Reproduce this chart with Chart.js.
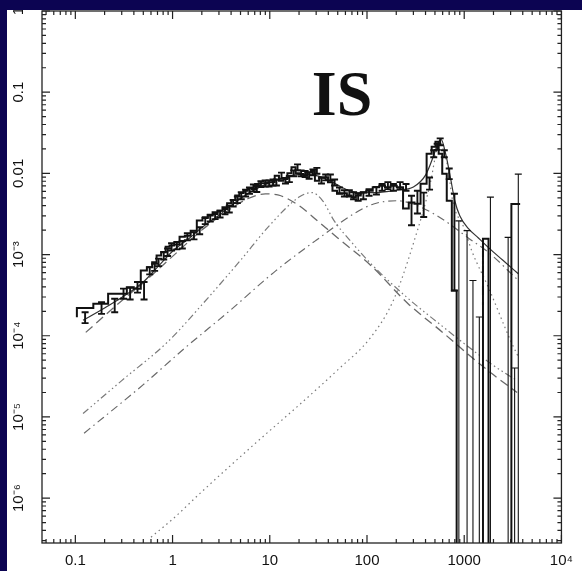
<!DOCTYPE html>
<html>
<head>
<meta charset="utf-8">
<script src="https://cdn.jsdelivr.net/npm/chart.js@4.4.0/dist/chart.umd.min.js"></script>
<style>
  html, body { margin: 0; padding: 0; background: #0c0452; }
  #c { position: absolute; left: 0; top: 0; }
</style>
</head>
<body>
<canvas id="c" width="582" height="571"></canvas>
<script>
// observed spectrum (bin centres, values, error extents; null lo = down to the axis)
const binX = [0.126,0.186,0.254,0.313,0.366,0.436,0.509,
  0.582,0.654,0.718,0.811,0.889,0.977,1.106,1.26,1.42,1.66,
  1.90,2.17,2.44,2.74,3.08,3.46,3.83,4.20,4.64,5.09,
  5.64,6.18,6.79,7.35,8.11,8.97,9.84,10.8,11.7,13.2,
  14.5,15.9,17.6,19.3,21.0,23.1,25.4,27.8,30.5,34.0,
  37.6,42.0,46.4,52.1,58.6,65.8,72.8,81.1,91.8,105,
  125,143,164,187,219,252,287,330,383,440,
  486,527,566,624,701,793,881,
  1070,1230,1430,1700,1860,2000,2830,3300,3600];
const binY = [1.69e-4,2.19e-4,2.47e-4,3.29e-4,3.29e-4,3.96e-4,3.78e-4,
  6.35e-4,6.98e-4,8.04e-4,9.72e-4,1.07e-3,1.25e-3,1.29e-3,1.33e-3,1.66e-3,1.71e-3,
  1.97e-3,2.62e-3,2.82e-3,3.02e-3,3.16e-3,3.47e-3,3.65e-3,4.28e-3,4.71e-3,5.32e-3,
  5.74e-3,6.12e-3,6.61e-3,6.42e-3,7.40e-3,7.53e-3,7.53e-3,7.75e-3,7.75e-3,9.37e-3,
  8.13e-3,8.53e-3,1.0e-2,1.19e-2,1.0e-2,9.8e-3,9.37e-3,1.03e-2,1.08e-2,8.13e-3,
  8.93e-3,8.93e-3,7.75e-3,6.12e-3,5.68e-3,5.68e-3,5.32e-3,5.07e-3,5.32e-3,5.83e-3,
  6.12e-3,6.73e-3,7.06e-3,6.73e-3,7.06e-3,6.73e-3,3.68e-3,4.39e-3,4.23e-3,7.47e-3,
  1.75e-2,2.13e-2,2.45e-2,1.75e-2,9.9e-3,4.6e-3,3.6e-4,
  1e-9,1e-9,1e-9,1e-9,1.57e-3,1e-9,1e-9,1e-9,4.2e-3];
const binLo = [1.43e-4,1.86e-4,1.95e-4,2.85e-4,2.8e-4,3.4e-4,2.8e-4,
  5.7e-4,6.3e-4,7.2e-4,8.7e-4,9.6e-4,1.12e-3,1.16e-3,1.19e-3,1.5e-3,1.54e-3,
  1.78e-3,2.37e-3,2.55e-3,2.73e-3,2.86e-3,3.14e-3,3.3e-3,3.9e-3,4.3e-3,4.8e-3,
  5.2e-3,5.6e-3,6.0e-3,5.9e-3,6.8e-3,6.9e-3,6.9e-3,7.1e-3,7.1e-3,8.6e-3,
  7.5e-3,7.8e-3,9.2e-3,1.09e-2,9.2e-3,9.0e-3,8.6e-3,9.5e-3,9.9e-3,7.5e-3,
  8.2e-3,8.2e-3,7.1e-3,5.6e-3,5.2e-3,5.2e-3,4.8e-3,4.6e-3,4.8e-3,5.3e-3,
  5.5e-3,6.1e-3,6.4e-3,6.1e-3,6.4e-3,6.1e-3,2.3e-3,3.2e-3,2.9e-3,6.3e-3,
  1.58e-2,1.95e-2,2.22e-2,1.58e-2,8.5e-3,3.6e-4,null,
  null,null,null,null,null,null,null,null,null];
const binHi = [1.95e-4,2.59e-4,2.85e-4,3.8e-4,3.9e-4,4.6e-4,4.6e-4,
  7.0e-4,7.7e-4,8.9e-4,1.08e-3,1.19e-3,1.38e-3,1.43e-3,1.47e-3,1.83e-3,1.88e-3,
  2.17e-3,2.88e-3,3.1e-3,3.32e-3,3.48e-3,3.82e-3,4.0e-3,4.7e-3,5.2e-3,5.85e-3,
  6.3e-3,6.7e-3,7.3e-3,7.0e-3,8.0e-3,8.2e-3,8.2e-3,8.4e-3,8.4e-3,1.02e-2,
  8.8e-3,9.3e-3,1.09e-2,1.29e-2,1.09e-2,1.07e-2,1.02e-2,1.12e-2,1.17e-2,8.8e-3,
  9.7e-3,9.7e-3,8.4e-3,6.7e-3,6.2e-3,6.2e-3,5.85e-3,5.6e-3,5.85e-3,6.4e-3,
  6.8e-3,7.4e-3,7.8e-3,7.4e-3,7.8e-3,7.4e-3,5.3e-3,6.1e-3,5.8e-3,8.9e-3,
  1.93e-2,2.32e-2,2.7e-2,1.93e-2,1.15e-2,5.6e-3,2.6e-3,
  1.97e-3,4.8e-4,1.7e-4,null,5.1e-3,null,1.63e-3,4.0e-5,9.8e-3];

// total model (solid)
const totalX = [0.12,0.2,0.3,0.5,0.7,1,1.5,2,3,5,7,10,15,20,30,40,60,80,120,200,300,400,480,540,580,640,720,800,900,1100,1400,1800,2500,3600];
const totalY = [1.55e-4,2.2e-4,2.95e-4,4.6e-4,7.0e-4,1.1e-3,1.6e-3,2.15e-3,3.05e-3,4.9e-3,6.3e-3,7.7e-3,9.0e-3,9.7e-3,9.4e-3,8.3e-3,6.4e-3,5.8e-3,5.8e-3,6.2e-3,6.8e-3,9.5e-3,1.6e-2,2.4e-2,2.6e-2,1.8e-2,9e-3,4.6e-3,3.0e-3,2.1e-3,1.6e-3,1.2e-3,8.5e-4,5.8e-4];
// components
const dashX = [0.128,0.3,0.5,1,2,4,6,9,13,20,31,50,110,263,600,1000,2000,3500];
const dashY = [1.1e-4,2.7e-4,4.5e-4,9.5e-4,2.0e-3,3.7e-3,4.9e-3,5.6e-3,5.3e-3,4.0e-3,2.6e-3,1.6e-3,7.3e-4,2.5e-4,1.1e-4,6.5e-5,3.3e-5,2.0e-5];
const dash3dotX = [0.12,0.3,0.9,2,5,10,20,27,35,46,70,110,263,600,1000,2000,3500];
const dash3dotY = [1.1e-5,2.8e-5,8.5e-5,2.4e-4,8.5e-4,2.3e-3,5.1e-3,5.8e-3,4.6e-3,2.6e-3,1.4e-3,7.7e-4,2.9e-4,1.3e-4,8e-5,4.3e-5,2.8e-5];
const dashDotX = [0.123,0.5,1.31,4,11.5,30,74,117,200,280,440,700,1100,1800,3600];
const dashDotY = [6.3e-6,2.5e-5,6.9e-5,2.1e-4,6.3e-4,1.5e-3,3.2e-3,4.2e-3,4.6e-3,4.3e-3,3.4e-3,2.4e-3,1.6e-3,1.05e-3,4.8e-4];
const dotX = [0.6,1,2,7.2,20,50,109,186,300,447,520,565,620,680,760,1000,1200,1780,3000,3600];
const dotY = [3.3e-7,5.5e-7,1.2e-6,4.8e-6,1.4e-5,3.8e-5,9.5e-5,2.7e-4,1.37e-3,7.5e-3,1.9e-2,2.5e-2,1.8e-2,1.17e-2,4.6e-3,2.1e-3,1.1e-3,3.9e-4,8.7e-5,5.5e-5];

// axes
const xTickVals = [0.1, 1, 10, 100, 1000, 10000];
const xTickLabels = ['0.1', '1', '10', '100', '1000', '10\u2074'];
const yTickVals = [1, 0.1, 0.01, 1e-3, 1e-4, 1e-5, 1e-6];
const yTickLabels = ['1', '0.1', '0.01', '10\u207B\u00B3', '10\u207B\u2074', '10\u207B\u2075', '10\u207B\u2076'];
const X_MIN = 0.0454, X_MAX = 10000, Y_MIN = 2.8e-7, Y_MAX = 1;

const pts = (xs, ys) => xs.map((x, i) => ({ x: x, y: ys[i] }));

// step outline: each bin drawn from its lower edge (geometric midpoints)
function stepPoints() {
  const out = [];
  for (let i = 0; i < binX.length; i++) {
    const lo = i === 0 ? binX[0] / Math.sqrt(binX[1] / binX[0]) : Math.sqrt(binX[i - 1] * binX[i]);
    out.push({ x: lo, y: binY[i] });
  }
  const n = binX.length - 1;
  out.push({ x: binX[n] * Math.sqrt(binX[n] / binX[n - 1]), y: binY[n] });
  return out;
}

const navy = '#0c0452';

const page = {
  id: 'page',
  beforeDraw(chart) {
    const ctx = chart.ctx;
    ctx.save();
    ctx.fillStyle = '#ffffff';
    ctx.fillRect(7, 10, 575, 561);
    ctx.restore();
  },
  afterDatasetsDraw(chart) {
    const { ctx, chartArea: a, scales: { x, y } } = chart;
    ctx.save();
    ctx.beginPath();
    ctx.rect(a.left, a.top, a.right - a.left, a.bottom - a.top);
    ctx.clip();
    ctx.strokeStyle = '#111';
    binX.forEach((v, i) => {
      if (binHi[i] == null) return;
      const px = x.getPixelForValue(v);
      const top = y.getPixelForValue(binHi[i]);
      const toAxis = binLo[i] == null;
      const bot = toAxis ? a.bottom + 2 : y.getPixelForValue(binLo[i]);
      ctx.lineWidth = toAxis ? 1.1 : 1.9;
      ctx.beginPath();
      ctx.moveTo(px, top); ctx.lineTo(px, bot);
      ctx.moveTo(px - 3.5, top); ctx.lineTo(px + 3.5, top);
      if (!toAxis) { ctx.moveTo(px - 3.5, bot); ctx.lineTo(px + 3.5, bot); }
      ctx.stroke();
    });
    ctx.restore();
  },
  afterDraw(chart) {
    const { ctx, chartArea: a, scales: { x, y } } = chart;
    ctx.save();
    ctx.strokeStyle = '#222';
    ctx.lineWidth = 1.3;
    ctx.strokeRect(a.left, a.top, a.right - a.left, a.bottom - a.top);

    // inward ticks on all four sides
    ctx.lineWidth = 1.2;
    ctx.beginPath();
    for (let e = -2; e <= 4; e++) {
      for (let m = 1; m <= 9; m++) {
        const v = m * Math.pow(10, e);
        if (v < X_MIN || v > X_MAX) continue;
        const px = x.getPixelForValue(v);
        const len = m === 1 ? 8 : 4;
        ctx.moveTo(px, a.bottom); ctx.lineTo(px, a.bottom - len);
        ctx.moveTo(px, a.top); ctx.lineTo(px, a.top + len);
      }
    }
    for (let e = -7; e <= 0; e++) {
      for (let m = 1; m <= 9; m++) {
        const v = m * Math.pow(10, e);
        if (v < Y_MIN || v > Y_MAX) continue;
        const py = y.getPixelForValue(v);
        const len = m === 1 ? 8 : 4;
        ctx.moveTo(a.left, py); ctx.lineTo(a.left + len, py);
        ctx.moveTo(a.right, py); ctx.lineTo(a.right - len, py);
      }
    }
    ctx.stroke();

    // rotated y labels
    ctx.fillStyle = '#111';
    ctx.font = '15px "Liberation Sans", Arial, sans-serif';
    ctx.textAlign = 'center';
    ctx.textBaseline = 'middle';
    yTickVals.forEach((v, i) => {
      ctx.save();
      ctx.translate(19, y.getPixelForValue(v));
      ctx.rotate(-Math.PI / 2);
      ctx.fillText(yTickLabels[i], 0, 0);
      ctx.restore();
    });

    // panel title
    ctx.font = 'bold 64px "Liberation Serif", "Times New Roman", serif';
    ctx.fillText('IS', 342, 98);

    // blue frame over the page edge
    ctx.fillStyle = navy;
    ctx.fillRect(0, 0, 582, 10);
    ctx.fillRect(0, 0, 7, 571);
    ctx.restore();
  }
};

const modelLine = (xs, ys, color, dash, width) => ({
  data: pts(xs, ys),
  showLine: true,
  borderColor: color,
  borderWidth: width,
  borderDash: dash,
  pointRadius: 0,
  cubicInterpolationMode: 'monotone',
  fill: false
});

new Chart(document.getElementById('c'), {
  type: 'scatter',
  data: {
    datasets: [
      {
        data: stepPoints(),
        showLine: true,
        stepped: 'after',
        borderColor: '#111',
        borderWidth: 2,
        pointRadius: 0,
        fill: false
      },
      modelLine(totalX, totalY, '#333', [], 1.2),
      modelLine(dashX, dashY, '#6a6a6a', [9, 5], 1.3),
      modelLine(dash3dotX, dash3dotY, '#7a7a7a', [7, 3, 1.5, 3, 1.5, 3, 1.5, 3], 1.2),
      modelLine(dashDotX, dashDotY, '#6a6a6a', [8, 4, 1.5, 4], 1.2),
      modelLine(dotX, dotY, '#7a7a7a', [1.5, 3.5], 1.2)
    ]
  },
  options: {
    responsive: false,
    animation: false,
    devicePixelRatio: 1,
    layout: { autoPadding: false, padding: { top: 11, right: 11, left: 0, bottom: 0 } },
    scales: {
      x: {
        type: 'logarithmic',
        min: X_MIN,
        max: X_MAX,
        grid: { display: false, drawTicks: false },
        border: { display: false },
        afterBuildTicks: s => { s.ticks = xTickVals.map(v => ({ value: v })); },
        afterFit: s => { s.height = 28; },
        ticks: {
          autoSkip: false,
          maxRotation: 0,
          padding: 9,
          color: '#111',
          font: { family: '"Liberation Sans", Arial, sans-serif', size: 15 },
          callback: (v, i) => xTickLabels[i]
        }
      },
      y: {
        type: 'logarithmic',
        min: Y_MIN,
        max: Y_MAX,
        grid: { display: false, drawTicks: false },
        border: { display: false },
        ticks: { display: false },
        afterFit: s => { s.width = 42; }
      }
    },
    plugins: {
      legend: { display: false },
      tooltip: { enabled: false }
    }
  },
  plugins: [page]
});
</script>
</body>
</html>
